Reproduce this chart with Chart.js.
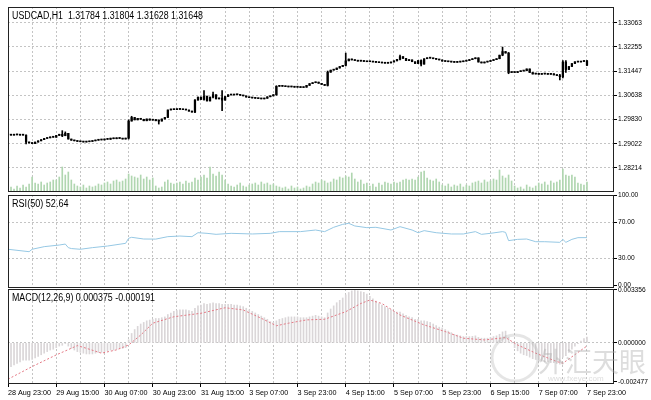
<!DOCTYPE html>
<html><head><meta charset="utf-8">
<script src="https://cdn.jsdelivr.net/npm/chart.js@4.4.1/dist/chart.umd.min.js"></script>
<style>
html,body{margin:0;padding:0;background:#fff;}
#wrap{position:relative;width:651px;height:400px;overflow:hidden;background:#fff;}
canvas{position:absolute;left:0;top:0;}
</style></head><body>
<div id="wrap">
<canvas id="cMain" width="651" height="400"></canvas>
<canvas id="cRsi" width="651" height="400"></canvas>
<canvas id="cMacd" width="651" height="400"></canvas>
</div>
<script>
// ---------------- DATA ----------------
const symbol = 'USDCAD,H1';
const timeLabels = ['28 Aug 23:00','29 Aug 15:00','30 Aug 07:00','30 Aug 23:00','31 Aug 15:00','3 Sep 07:00','3 Sep 23:00','4 Sep 15:00','5 Sep 07:00','5 Sep 23:00','6 Sep 15:00','7 Sep 07:00','7 Sep 23:00'];
const firstOpen = 1.2932;
const closes = [
1.2932,1.2931,1.2933,1.2932,1.2931,1.2931,1.2908,1.2905,1.2903,1.2908,
1.2912,1.2916,1.2920,1.2922,1.2925,1.2924,1.2930,1.2934,1.2929,1.2937,
1.2918,1.2914,1.2912,1.2910,1.2909,1.2908,1.2909,1.2910,1.2912,1.2914,
1.2916,1.2915,1.2918,1.2917,1.2921,1.2919,1.2922,1.2920,1.2918,1.2921,
1.2978,1.2990,1.2982,1.2987,1.2984,1.2979,1.2985,1.2981,1.2983,1.2979,
1.2978,1.2985,1.2990,1.3015,1.3018,1.3016,1.3019,1.3017,1.3016,1.3015,
1.3011,1.3008,1.3048,1.3058,1.3050,1.3061,1.3045,1.3058,1.3066,1.3052,
1.3055,1.3048,1.3060,1.3066,1.3065,1.3067,1.3066,1.3064,1.3062,1.3058,
1.3056,1.3055,1.3054,1.3053,1.3052,1.3054,1.3059,1.3062,1.3066,1.3094,
1.3096,1.3094,1.3093,1.3092,1.3093,1.3091,1.3092,1.3090,1.3091,1.3097,
1.3103,1.3106,1.3108,1.3104,1.3100,1.3097,1.3141,1.3148,1.3150,1.3155,
1.3160,1.3164,1.3179,1.3185,1.3182,1.3180,1.3178,1.3179,1.3177,1.3176,
1.3176,1.3175,1.3174,1.3173,1.3172,1.3171,1.3172,1.3175,1.3179,1.3184,
1.3193,1.3187,1.3180,1.3182,1.3176,1.3170,1.3180,1.3168,1.3186,1.3189,
1.3188,1.3186,1.3184,1.3182,1.3178,1.3177,1.3176,1.3175,1.3174,1.3175,
1.3176,1.3178,1.3180,1.3183,1.3186,1.3189,1.3175,1.3172,1.3175,1.3177,
1.3180,1.3183,1.3186,1.3198,1.3210,1.3205,1.3140,1.3142,1.3140,1.3143,
1.3145,1.3146,1.3152,1.3140,1.3135,1.3137,1.3134,1.3135,1.3136,1.3134,
1.3136,1.3132,1.3130,1.3126,1.3175,1.3150,1.3160,1.3170,1.3176,1.3175,
1.3177,1.31784,1.31648];
const wickBars  = [6,18,19,40,41,50,62,65,68,71,89,106,112,130,137,164,166,183,184,185,192];
const wickHighs = [1.2932,1.2946,1.2942,1.2982,1.2994,1.2982,1.3050,1.3080,1.3075,1.3080,1.3096,1.3145,1.3205,1.3198,1.3182,1.3225,1.3207,1.3134,1.3180,1.3180,1.31804];
const wickLows  = [1.2902,1.2926,1.2930,1.2918,1.2978,1.2968,1.3006,1.3048,1.3055,1.3013,1.3064,1.3095,1.3162,1.3182,1.3162,1.3196,1.3136,1.3115,1.3122,1.3140,1.31628];
const volumes = [
160,200,120,240,160,280,200,320,600,360,
320,400,280,360,400,480,480,600,1000,680,
800,480,320,240,200,280,160,240,200,240,
320,280,360,400,320,440,480,400,440,520,
720,640,600,560,680,520,600,480,560,240,
160,200,400,480,360,320,360,400,320,440,
360,400,560,480,600,680,560,1000,720,640,
800,680,480,320,240,200,280,360,240,200,
280,320,360,280,400,320,360,280,320,240,
200,160,200,120,240,160,200,120,160,240,
200,320,400,360,480,440,360,400,520,480,
600,560,640,600,760,520,400,480,320,360,
240,320,200,360,280,400,360,320,400,360,
400,480,520,480,520,480,600,800,840,560,
480,440,520,400,280,240,320,200,280,240,
320,200,280,240,360,400,440,360,480,400,
440,520,480,880,640,560,680,440,240,160,
200,120,280,200,160,240,360,320,400,280,
440,360,400,480,920,680,640,680,600,360,
320,280,400];
const priceTicks = [1.33063,1.32255,1.31447,1.30638,1.29830,1.29022,1.28214];

const rsiBars   = [0,7,8,12,17,19,20,21,24,28,33,39,40,41,45,49,53,57,61,63,66,69,74,81,87,90,97,102,105,108,111,113,115,119,122,127,130,134,136,138,142,147,151,155,157,160,164,165,166,169,172,175,178,183,184,185,187,189,192];
const rsiValues = [39.7,37.0,39.7,42.6,44.4,45.5,41.5,40.5,39.7,41.5,43.3,46.3,51.9,53.0,51.1,51.0,53.7,54.4,53.7,58.1,57.4,56.3,57.4,56.7,57.4,59.3,59.3,61.1,59.3,64.1,67.4,68.5,65.6,63.7,64.1,61.1,64.8,61.1,58.1,60.4,58.1,56.7,56.7,59.3,56.3,57.4,59.3,58.5,49.3,50.7,51.1,48.1,48.1,47.4,50.7,47.4,50.7,52.6,52.64];
const rsiTicks = [100,70,30,0];

const macdMain = [
-0.00160,-0.00150,-0.00140,-0.00130,-0.00120,-0.00110,-0.00110,-0.00110,-0.00105,-0.00095,
-0.00085,-0.00075,-0.00065,-0.00055,-0.00045,-0.00040,-0.00030,-0.00020,-0.00015,-0.00005,
-0.00020,-0.00035,-0.00045,-0.00055,-0.00060,-0.00065,-0.00070,-0.00070,-0.00070,-0.00065,
-0.00060,-0.00060,-0.00055,-0.00050,-0.00045,-0.00045,-0.00040,-0.00035,-0.00035,-0.00030,
0.00020,0.00060,0.00085,0.00105,0.00120,0.00130,0.00140,0.00145,0.00150,0.00155,
0.00155,0.00160,0.00165,0.00180,0.00190,0.00200,0.00205,0.00210,0.00210,0.00210,
0.00205,0.00200,0.00220,0.00235,0.00240,0.00250,0.00245,0.00250,0.00255,0.00250,
0.00250,0.00245,0.00245,0.00245,0.00245,0.00240,0.00240,0.00235,0.00230,0.00220,
0.00210,0.00200,0.00190,0.00180,0.00170,0.00160,0.00150,0.00135,0.00130,0.00140,
0.00150,0.00155,0.00160,0.00165,0.00165,0.00165,0.00165,0.00160,0.00160,0.00160,
0.00165,0.00170,0.00175,0.00170,0.00165,0.00160,0.00190,0.00215,0.00235,0.00255,
0.00270,0.00285,0.00305,0.00320,0.00330,0.003356,0.00330,0.00325,0.00320,0.00310,
0.00295,0.00280,0.00265,0.00250,0.00240,0.00230,0.00220,0.00210,0.00200,0.00195,
0.00195,0.00185,0.00175,0.00165,0.00160,0.00150,0.00150,0.00140,0.00140,0.00135,
0.00130,0.00120,0.00110,0.00100,0.00095,0.00085,0.00075,0.00065,0.00055,0.00050,
0.00045,0.00040,0.00040,0.00040,0.00042,0.00045,0.00035,0.00030,0.00030,0.00030,
0.00035,0.00040,0.00045,0.00055,0.00070,0.00075,0.00035,0.00000,-0.00030,-0.00050,
-0.00065,-0.00075,-0.00080,-0.00090,-0.00100,-0.00105,-0.00110,-0.00115,-0.00120,-0.00120,
-0.00125,-0.00125,-0.00130,-0.00135,-0.00090,-0.00080,-0.00060,-0.00040,-0.00020,-0.00005,
0.00012,0.00028,0.000375];
const signalBars   = [0,8,16,23,26,31,36,40,44,48,55,64,72,78,84,89,93,99,105,112,117,120,124,130,138,145,151,158,165,169,175,182,184,192];
const signalValues = [-0.00230,-0.00150,-0.00076,-0.00017,-0.00034,-0.00065,-0.00044,-0.00013,0.00050,0.00125,0.00166,0.00188,0.00223,0.00209,0.00156,0.00109,0.00125,0.00146,0.00150,0.00198,0.00250,0.00272,0.00250,0.00177,0.00114,0.00072,0.00030,0.00019,0.00034,-0.00013,-0.00065,-0.00118,-0.00129,-0.000191];
const macdTicks = [0.003356,0,-0.002477];

// ---------------- BUILD ----------------
const FONT = "'Liberation Sans', Arial, sans-serif";
const measureCtx = document.createElement('canvas').getContext('2d');
function textWidth(text, px){ measureCtx.font = px + 'px ' + FONT; return measureCtx.measureText(text).width; }
function fitPx(text, targetW){ return 10 * targetW / textWidth(text, 10); }
const XLAB_PX = Math.min(8, fitPx('28 Aug 23:00', 43));
const YLAB_PX = Math.min(8, fitPx('1.33063', 24));
const TITLE_PX = 10;
const GRID = '#c4c4c4';
const LEFT = 8, YAXW = 37;
const XMIN = 0, XMAX = 200.96;
const gridBars = [];
for (let b = 0; b <= 192; b += 8) gridBars.push(b);

const opens = closes.map((c, i) => i === 0 ? firstOpen : closes[i - 1]);
const highs = closes.map((c, i) => { const k = wickBars.indexOf(i); return k >= 0 ? wickHighs[k] : Math.max(c, opens[i]); });
const lows  = closes.map((c, i) => { const k = wickBars.indexOf(i); return k >= 0 ? wickLows[k] : Math.min(c, opens[i]); });
const last = closes.length - 1;

const mainTitle = symbol + '  ' + [opens[last], highs[last], lows[last], closes[last]].map(v => v.toFixed(5)).join(' ');
const rsiTitle  = 'RSI(50) ' + rsiValues[rsiValues.length - 1].toFixed(2);
const macdTitle = 'MACD(12,26,9) ' + macdMain[last].toFixed(6) + ' ' + signalValues[signalValues.length - 1].toFixed(6);

function zeroPad(s){ s.paddingTop = 0; s.paddingBottom = 0; s.paddingLeft = 0; s.paddingRight = 0; }

function xScale(showLabels){
  return {
    type: 'linear', position: 'bottom', min: XMIN, max: XMAX, offset: false, bounds: 'data',
    afterBuildTicks: s => { s.ticks = gridBars.map(v => ({value: v})); },
    afterFit: s => { s.height = showLabels ? 16 : 0; zeroPad(s); },
    grid: { offset: false, color: GRID, lineWidth: 1, drawTicks: showLabels, tickLength: 3,
            tickColor: c => (c.tick && c.tick.value % 16 === 0) ? '#000' : 'rgba(0,0,0,0)' },
    border: { display: false, dash: [2, 2] },
    ticks: { display: showLabels, autoSkip: false, maxRotation: 0, minRotation: 0, align: 'start', padding: 2,
             font: { family: FONT, size: XLAB_PX }, color: '#000',
             callback: v => (v % 16 === 0) ? timeLabels[v / 16] : '' }
  };
}
function yScale(min, max, ticks, fmt, gridOn){
  return {
    position: 'right', min, max, bounds: 'data',
    afterBuildTicks: s => { s.ticks = ticks.map(v => ({value: v})); },
    afterFit: s => { s.width = YAXW; zeroPad(s); },
    grid: { color: c => (c.tick && gridOn(c.tick.value)) ? GRID : 'rgba(0,0,0,0)', drawTicks: true, tickLength: 3, tickColor: '#000' },
    border: { display: false, dash: [2, 2] },
    ticks: { autoSkip: false, padding: 1, font: { family: FONT, size: YLAB_PX }, color: '#000', callback: fmt }
  };
}

function panelPlugin(text, targetWidth, watermark){
  return {
    id: 'panel',
    afterDraw(chart){
      const {ctx, chartArea: a} = chart;
      ctx.save();
      ctx.strokeStyle = '#222'; ctx.lineWidth = 1;
      ctx.strokeRect(a.left + 0.5, a.top + 0.5, a.right - a.left - 1, a.bottom - a.top - 1);
      ctx.fillStyle = '#000';
      ctx.font = TITLE_PX + "px " + FONT;
      ctx.textBaseline = 'alphabetic'; ctx.textAlign = 'left';
      const w = ctx.measureText(text).width;
      ctx.save();
      ctx.translate(a.left + 4, a.top + 12);
      ctx.scale(targetWidth / w, 1);
      ctx.fillText(text, 0, 0);
      ctx.restore();
      if (watermark){
        ctx.fillStyle = 'rgba(170,170,170,0.4)';
        ctx.font = "27px 'Noto Sans CJK SC'";
        ctx.fillText('外汇天眼', 538, 372);
        ctx.font = "8px " + FONT;
        ctx.fillText('www.fxeye.com', 548, 381);
        ctx.strokeStyle = 'rgba(170,170,170,0.3)'; ctx.lineWidth = 3;
        ctx.beginPath(); ctx.arc(515, 358, 23, 0, Math.PI * 2); ctx.stroke();
      }
      ctx.restore();
    }
  };
}

const common = (padTop, padBottom) => ({
  responsive: false, animation: false, events: [], devicePixelRatio: 1,
  layout: { padding: { left: LEFT, right: 0, top: padTop, bottom: padBottom } },
});

// Main price chart
new Chart(document.getElementById('cMain'), {
  type: 'bar',
  data: { datasets: [
    { label: 'Volume', yAxisID: 'yv', order: 3, grouped: false, barThickness: 1, backgroundColor: 'rgb(176,214,176)',
      data: volumes.map((v, i) => ({x: i, y: v})) },
    { label: 'Wick', yAxisID: 'y', order: 1, grouped: false, barThickness: 1, backgroundColor: '#000',
      data: closes.map((c, i) => ({x: i, y: [lows[i], highs[i]]})) },
    { label: 'Body', yAxisID: 'y', order: 0, grouped: false, barThickness: 1.6, minBarLength: 1, backgroundColor: '#000',
      data: closes.map((c, i) => ({x: i, y: [opens[i], c]})) }
  ]},
  options: Object.assign(common(7, 208), {
    plugins: { legend: {display: false}, tooltip: {enabled: false} },
    scales: {
      x: xScale(false),
      y: yScale(1.27413, 1.33587, priceTicks, v => Number(v).toFixed(5), () => true),
      yv: { display: false, min: 0, max: 7400 }
    }
  }),
  plugins: [panelPlugin(mainTitle, 191, false)]
});

// RSI chart
new Chart(document.getElementById('cRsi'), {
  type: 'line',
  data: { datasets: [
    { label: 'RSI', borderColor: 'rgb(150,200,228)', borderWidth: 1, pointRadius: 0, tension: 0,
      data: rsiBars.map((b, k) => ({x: b, y: rsiValues[k]})) }
  ]},
  options: Object.assign(common(195, 112), {
    plugins: { legend: {display: false}, tooltip: {enabled: false} },
    scales: {
      x: xScale(false),
      y: yScale(-3.33, 100, rsiTicks, v => Number(v).toFixed(2), v => v === 70 || v === 30)
    }
  }),
  plugins: [panelPlugin(rsiTitle, 56.5, false)]
});

// MACD chart
new Chart(document.getElementById('cMacd'), {
  type: 'bar',
  data: { datasets: [
    { type: 'line', label: 'Signal', order: 0, borderColor: 'rgb(228,120,132)', borderWidth: 1, borderDash: [2, 2],
      pointRadius: 0, tension: 0, data: signalBars.map((b, k) => ({x: b, y: signalValues[k]})) },
    { label: 'MACD', order: 1, grouped: false, barThickness: 1, backgroundColor: 'rgb(218,214,216)',
      data: macdMain.map((v, i) => ({x: i, y: v})) }
  ]},
  options: Object.assign(common(289, 0), {
    plugins: { legend: {display: false}, tooltip: {enabled: false} },
    scales: {
      x: xScale(true),
      y: yScale(-0.002604, 0.003419, macdTicks, v => Number(v).toFixed(6), v => v === 0)
    }
  }),
  plugins: [panelPlugin(macdTitle, 143, true)]
});
</script>
</body></html>
